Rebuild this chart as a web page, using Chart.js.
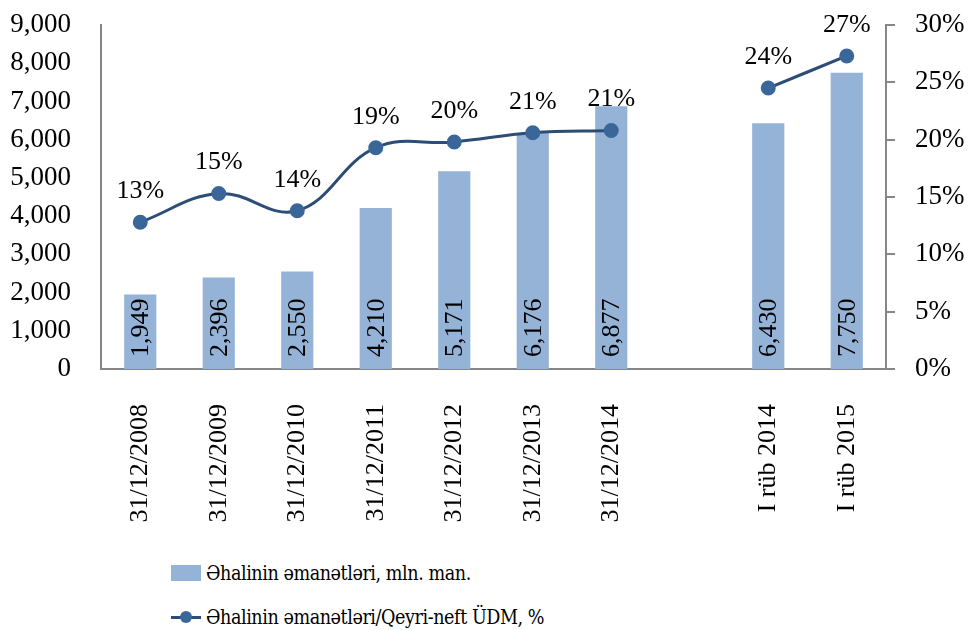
<!DOCTYPE html>
<html lang="az">
<head>
    <meta charset="UTF-8">
    <title>Əhalinin əmanətləri</title>
    <script src="https://cdn.jsdelivr.net/npm/chart.js"></script>
    <style>
        * { margin: 0; padding: 0; box-sizing: border-box; }
        body { background: #fff; width: 968px; height: 630px; overflow: hidden;
               font-family: 'Liberation Serif', 'DejaVu Serif', serif; color: #000; }
        #wrap { position: relative; width: 968px; height: 540px; }
        #legend { padding-left: 171px; margin-top: 11px; font-size: 20px; letter-spacing: -0.5px;
                  font-family: 'DejaVu Serif', serif; }
        .item { display: flex; align-items: center; height: 44px; white-space: nowrap; }
        .item .txt { display: inline-block; transform: scaleX(0.88); transform-origin: left center; }
        .sym { width: 30px; height: 16px; margin-right: 5px; position: relative; flex: none; }
        .sym.bar { background: #95b3d7; }
        .sym.line::before { content: ''; position: absolute; left: 0; right: 0; top: 7px; height: 3px; background: #2c4d75; }
        .sym.line::after { content: ''; position: absolute; left: 9px; top: 2px; width: 12px; height: 12px; border-radius: 50%; background: #3a6699; }
    </style>
</head>
<body>
    <div id="wrap"><canvas id="c" width="968" height="540"></canvas></div>
    <div id="legend"></div>

    <script>
        // data
        const kateqoriyalar = ['31/12/2008', '31/12/2009', '31/12/2010', '31/12/2011', '31/12/2012',
                               '31/12/2013', '31/12/2014', '', 'I rüb 2014', 'I rüb 2015'];
        const emanetler = [1949, 2396, 2550, 4210, 5171, 6176, 6877, null, 6430, 7750];
        const faizler = [12.8, 15.3, 13.8, 19.3, 19.8, 20.6, 20.8, null, 24.5, 27.3];
        const faizEtiketleri = ['13%', '15%', '14%', '19%', '20%', '21%', '21%', '', '24%', '27%'];

        const FONT = "'Liberation Serif', 'DejaVu Serif', serif";
        const axisColor = '#868686';

        // etiketleri cizen plugin
        const etiketPlugin = {
            id: 'etiketler',
            afterDatasetsDraw(chart) {
                const ctx = chart.ctx;
                ctx.save();
                ctx.fillStyle = '#000';
                ctx.font = '26px ' + FONT;
                const bars = chart.getDatasetMeta(0).data;
                bars.forEach((el, i) => {
                    if (emanetler[i] == null) return;
                    ctx.save();
                    ctx.translate(el.x, el.base - 12);
                    ctx.rotate(-Math.PI / 2);
                    ctx.textAlign = 'left';
                    ctx.textBaseline = 'middle';
                    ctx.fillText(emanetler[i].toLocaleString('en-US'), 0, 1);
                    ctx.restore();
                });
                const pts = chart.getDatasetMeta(1).data;
                pts.forEach((el, i) => {
                    if (faizler[i] == null) return;
                    ctx.textAlign = 'center';
                    ctx.textBaseline = 'middle';
                    ctx.fillText(faizEtiketleri[i], el.x, el.y - 31);
                });
                ctx.restore();
            }
        };

        const chart = new Chart(document.getElementById('c'), {
            data: {
                labels: kateqoriyalar,
                datasets: [{
                    type: 'bar',
                    label: 'Əhalinin əmanətləri, mln. man.',
                    data: emanetler,
                    backgroundColor: '#95b3d7',
                    barPercentage: 0.41,
                    categoryPercentage: 1,
                    yAxisID: 'y',
                    order: 2
                }, {
                    type: 'line',
                    label: 'Əhalinin əmanətləri/Qeyri-neft ÜDM, %',
                    data: faizler,
                    borderColor: '#2c4d75',
                    borderWidth: 3,
                    pointBackgroundColor: '#3a6699',
                    pointBorderColor: '#3a6699',
                    pointRadius: 6,
                    tension: 0.4,
                    spanGaps: false,
                    yAxisID: 'y1',
                    order: 1
                }]
            },
            options: {
                responsive: false,
                animation: false,
                layout: { padding: { top: 25, right: 0, left: 0, bottom: 0 } },
                plugins: { legend: { display: false }, tooltip: { enabled: false } },
                scales: {
                    x: {
                        grid: { display: false },
                        border: { display: true, color: axisColor, width: 2 },
                        ticks: { minRotation: 90, maxRotation: 90, autoSkip: false, padding: 27,
                                 color: '#000', font: { family: FONT, size: 26 } },
                        afterFit(s) { s.height = 171; s.paddingLeft = 0; s.paddingRight = 0; }
                    },
                    y: {
                        position: 'left',
                        min: 0, max: 9000,
                        grid: { display: false },
                        border: { display: true, color: axisColor, width: 2 },
                        ticks: { stepSize: 1000, padding: 22, color: '#000',
                                 font: { family: FONT, size: 27 },
                                 callback: v => v.toLocaleString('en-US') },
                        afterFit(s) { s.width = 101; s.paddingTop = 0; s.paddingBottom = 0; }
                    },
                    y1: {
                        position: 'right',
                        min: 0, max: 30,
                        grid: { drawOnChartArea: false, drawTicks: true, tickLength: 9, color: axisColor, lineWidth: 2 },
                        border: { display: true, color: axisColor, width: 2 },
                        ticks: { stepSize: 5, padding: 20, color: '#000',
                                 font: { family: FONT, size: 27 },
                                 callback: v => v + '%' },
                        afterFit(s) { s.width = 82; s.paddingTop = 0; s.paddingBottom = 0; }
                    }
                }
            },
            plugins: [etiketPlugin]
        });

        // HTML legend
        const legend = document.getElementById('legend');
        chart.data.datasets.forEach(ds => {
            const row = document.createElement('div');
            row.className = 'item';
            const sym = document.createElement('span');
            sym.className = 'sym ' + ds.type;
            const txt = document.createElement('span');
            txt.className = 'txt';
            txt.textContent = ds.label;
            row.appendChild(sym);
            row.appendChild(txt);
            legend.appendChild(row);
        });
    </script>
</body>
</html>
